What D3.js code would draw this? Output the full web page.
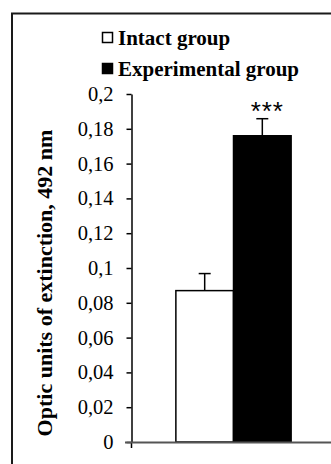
<!DOCTYPE html>
<html>
<head>
<meta charset="utf-8">
<script src="https://cdn.jsdelivr.net/npm/d3@7"></script>
<style>
	html, body { margin: 0; padding: 0; background: #fff; }
	svg { display: block; }
	.serif { font-family: 'Liberation Serif', 'Times New Roman', Times, serif; }
</style>
</head>
<body>
<div id="chart"></div>
<script>
'use strict'

// data
const groups = ['Intact group', 'Experimental group'];
const values = [0.087, 0.176];
const errors = [0.0098, 0.0098];
const fills = ['#ffffff', '#000000'];
const yTicks = [0, 0.02, 0.04, 0.06, 0.08, 0.1, 0.12, 0.14, 0.16, 0.18, 0.2];
const yTitle = 'Optic units of extinction, 492 nm';
const signif = '***';

const width = 331;
const height = 464;

const svg = d3.select('#chart')
	.append('svg')
	.attr('width', width)
	.attr('height', height);

// outer frame (runs off the right and bottom edge)
svg.append('rect')
	.attr('x', 12)
	.attr('y', 13.5)
	.attr('width', 340)
	.attr('height', 470)
	.attr('fill', 'none')
	.attr('stroke', '#1a1a1a')
	.attr('stroke-width', 2);

const plotLeft = 131.5;
const plotRight = 335.5;

const y = d3.scaleLinear()
	.domain([0, 0.2])
	.range([442, 94]);

const x = d3.scaleBand()
	.domain(groups)
	.range([plotLeft, plotRight])
	.paddingInner(0)
	.paddingOuter(0.77);

// bars
svg.append('g')
	.selectAll('rect')
	.data(groups)
	.enter()
	.append('rect')
		.attr('x', (d) => x(d))
		.attr('y', (d, i) => y(values[i]))
		.attr('width', x.bandwidth())
		.attr('height', (d, i) => y(0) - y(values[i]))
		.attr('fill', (d, i) => fills[i])
		.attr('stroke', '#000')
		.attr('stroke-width', 1.5);

// error bars
const capW = 12;
const err = svg.append('g')
	.selectAll('g')
	.data(groups)
	.enter()
	.append('g')
		.attr('stroke', '#000')
		.attr('stroke-width', 1.5);

err.append('line')
	.attr('x1', (d) => x(d) + x.bandwidth() / 2)
	.attr('x2', (d) => x(d) + x.bandwidth() / 2)
	.attr('y1', (d, i) => y(values[i]))
	.attr('y2', (d, i) => y(values[i] + errors[i]));

err.append('line')
	.attr('x1', (d) => x(d) + x.bandwidth() / 2 - capW / 2)
	.attr('x2', (d) => x(d) + x.bandwidth() / 2 + capW / 2)
	.attr('y1', (d, i) => y(values[i] + errors[i]))
	.attr('y2', (d, i) => y(values[i] + errors[i]));

// significance mark over the experimental bar
svg.append('text')
	.attr('x', x(groups[1]) + x.bandwidth() / 2 + 5)
	.attr('y', y(values[1] + errors[1]) + 1)
	.attr('text-anchor', 'middle')
	.style('font-family', "'Liberation Sans', Arial, sans-serif")
	.style('font-size', '26px')
	.style('letter-spacing', '1px')
	.attr('fill', '#000')
	.text(signif);

// y axis
const fmt = (v) => d3.format('~g')(v).replace('.', ',');
const yAxis = svg.append('g')
	.attr('transform', `translate(${plotLeft},0)`)
	.call(d3.axisLeft(y)
		.tickValues(yTicks)
		.tickFormat(fmt)
		.tickSize(5)
		.tickSizeOuter(0)
		.tickPadding(13));

yAxis.attr('font-family', null).attr('font-size', null);
yAxis.select('.domain')
	.attr('stroke', '#000')
	.attr('stroke-width', 1.5);
yAxis.selectAll('.tick line')
	.attr('stroke', '#000')
	.attr('stroke-width', 1.5);
yAxis.selectAll('.tick text')
	.attr('class', 'serif')
	.style('font-size', '20.5px')
	.attr('fill', '#000');

// y axis continues a little below zero
svg.append('line')
	.attr('x1', plotLeft)
	.attr('x2', plotLeft)
	.attr('y1', y(0))
	.attr('y2', y(0) + 6)
	.attr('stroke', '#000')
	.attr('stroke-width', 1.5);

// x axis line (grey)
svg.append('line')
	.attr('x1', plotLeft - 6.5)
	.attr('x2', width)
	.attr('y1', y(0) + 0.5)
	.attr('y2', y(0) + 0.5)
	.attr('stroke', '#555')
	.attr('stroke-width', 2);

// y title
svg.append('text')
	.attr('class', 'serif')
	.attr('transform', `translate(52,${(y(0) + y(0.2)) / 2 + 15}) rotate(-90)`)
	.attr('text-anchor', 'middle')
	.style('font-weight', 'bold')
	.style('font-size', '22px')
	.attr('fill', '#000')
	.text(yTitle);

// legend
const legend = svg.append('g')
	.selectAll('g')
	.data(groups)
	.enter()
	.append('g')
		.attr('transform', (d, i) => `translate(102,${32 + i * 31})`);

legend.append('rect')
	.attr('x', 0.5)
	.attr('y', 0.5)
	.attr('width', 10)
	.attr('height', 10)
	.attr('fill', (d, i) => fills[i])
	.attr('stroke', '#000')
	.attr('stroke-width', 1.5);

legend.append('text')
	.attr('class', 'serif')
	.attr('x', 16)
	.attr('y', 13)
	.style('font-weight', 'bold')
	.style('font-size', '21px')
	.attr('fill', '#000')
	.text((d) => d);
</script>
</body>
</html>
